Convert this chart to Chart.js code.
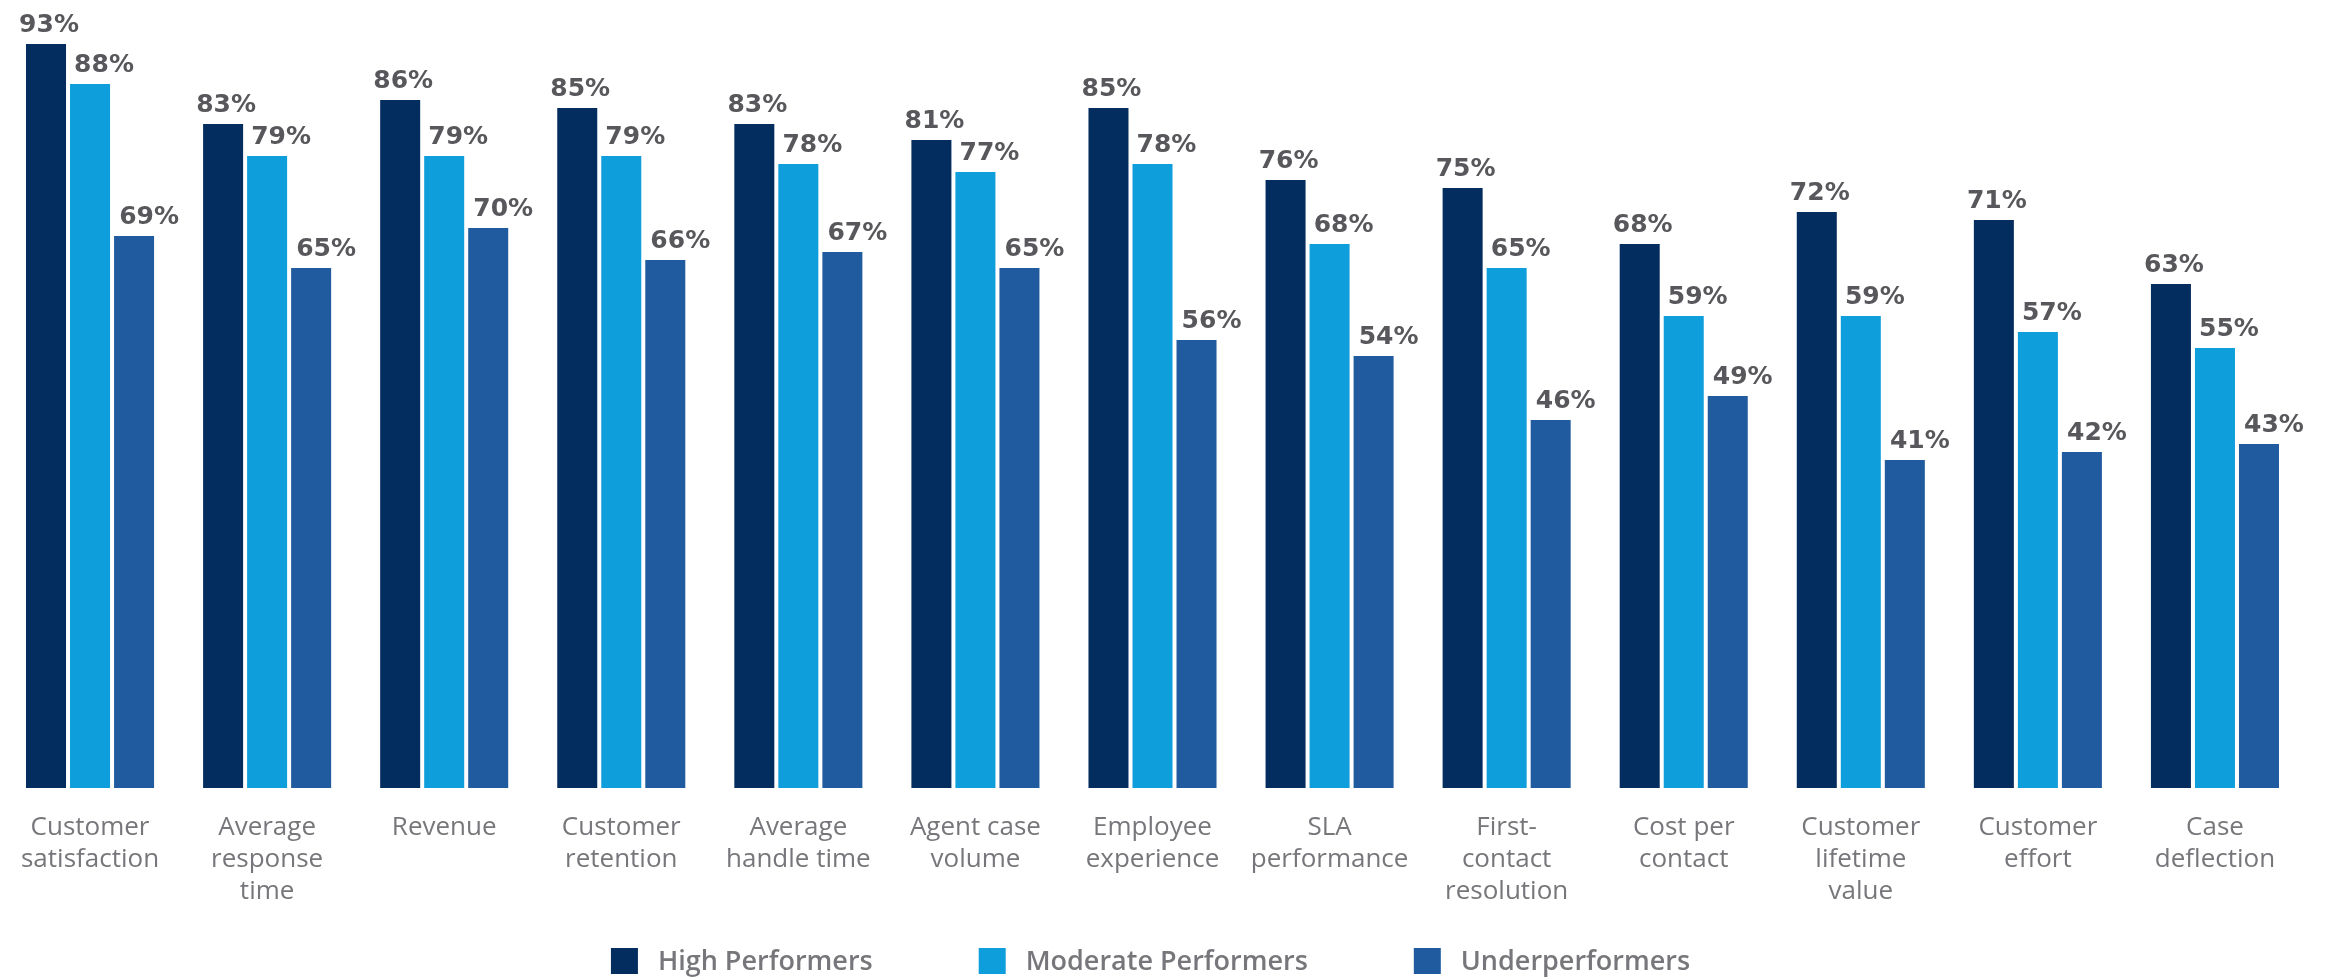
<!DOCTYPE html>
<html>
<head>
<meta charset="utf-8">
<script src="https://cdn.jsdelivr.net/npm/chart.js@4.4.1/dist/chart.umd.min.js"></script>
<style>
  html, body { margin: 0; padding: 0; background: #ffffff; }
  #wrap { width: 2336px; height: 980px; position: relative; }
  canvas { display: block; }
</style>
</head>
<body>
<div id="wrap"><canvas id="chart" width="2336" height="980"></canvas></div>
<script>
// Outcome categories (multi-line axis labels)
const categories = [
  ['Customer', 'satisfaction'],
  ['Average', 'response', 'time'],
  ['Revenue'],
  ['Customer', 'retention'],
  ['Average', 'handle time'],
  ['Agent case', 'volume'],
  ['Employee', 'experience'],
  ['SLA', 'performance'],
  ['First-', 'contact', 'resolution'],
  ['Cost per', 'contact'],
  ['Customer', 'lifetime', 'value'],
  ['Customer', 'effort'],
  ['Case', 'deflection']
];

// Share of each group, in percent
const highPerformers     = [93, 83, 86, 85, 83, 81, 85, 76, 75, 68, 72, 71, 63];
const moderatePerformers = [88, 79, 79, 79, 78, 77, 78, 68, 65, 59, 59, 57, 55];
const underperformers    = [69, 65, 70, 66, 67, 65, 56, 54, 46, 49, 41, 42, 43];

const seriesNames = ['High Performers', 'Moderate Performers', 'Underperformers'];

// Styling
const seriesColors = ['#042d5f', '#0e9edb', '#215b9f'];
const valueLabelShift = [3, 14, 15];
const valueFont = 'bold 25px "DejaVu Sans"';
const valueColor = '#58585c';
const axisColor = '#77777b';

// Percent labels above each bar
const valueLabels = {
  id: 'valueLabels',
  afterDatasetsDraw(chart) {
    const ctx = chart.ctx;
    ctx.save();
    ctx.font = valueFont;
    ctx.fillStyle = valueColor;
    ctx.textAlign = 'center';
    ctx.textBaseline = 'alphabetic';
    chart.data.datasets.forEach((ds, di) => {
      const meta = chart.getDatasetMeta(di);
      meta.data.forEach((bar, i) => {
        ctx.fillText(ds.data[i] + '%', bar.x + valueLabelShift[di], bar.y - 12);
      });
    });
    ctx.restore();
  }
};

// Legend row with tall swatches, centred under the plot
const legendRow = {
  id: 'legendRow',
  afterDraw(chart) {
    const ctx = chart.ctx;
    const area = chart.chartArea;
    const boxW = 27, boxH = 26, textGap = 20, itemGap = 106;
    const cy = 961;
    ctx.save();
    ctx.font = '600 27px "Open Sans"';
    ctx.textBaseline = 'middle';
    ctx.textAlign = 'left';
    const widths = chart.data.datasets.map(ds => ctx.measureText(ds.label).width);
    let total = 0;
    widths.forEach((w, i) => { total += boxW + textGap + w + (i ? itemGap : 0); });
    let x = (area.left + area.right) / 2 - 2 - total / 2;
    chart.data.datasets.forEach((ds, i) => {
      ctx.fillStyle = ds.backgroundColor;
      ctx.fillRect(x, cy - boxH / 2, boxW, boxH);
      ctx.fillStyle = axisColor;
      ctx.fillText(ds.label, x + boxW + textGap, cy + 1);
      x += boxW + textGap + widths[i] + itemGap;
    });
    ctx.restore();
  }
};

const seriesValues = [highPerformers, moderatePerformers, underperformers];

new Chart(document.getElementById('chart'), {
  type: 'bar',
  data: {
    labels: categories,
    datasets: seriesValues.map((vals, i) => ({
      label: seriesNames[i],
      data: vals,
      backgroundColor: seriesColors[i],
      borderWidth: 0,
      categoryPercentage: 0.7458,
      barPercentage: 0.909
    }))
  },
  options: {
    responsive: false,
    animation: false,
    devicePixelRatio: 1,
    layout: { padding: { left: 1.5, right: 32.5, top: 0, bottom: 48 } },
    plugins: {
      legend: { display: false },
      tooltip: { enabled: false }
    },
    scales: {
      x: {
        grid: { display: false, drawTicks: false },
        border: { display: false },
        ticks: {
          padding: 24,
          color: axisColor,
          font: { family: '"Open Sans"', size: 26, lineHeight: 1.2308 },
          maxRotation: 0,
          autoSkip: false
        },
        // edge labels fit inside their categories; no extra side inset needed
        afterFit(scale) {
          scale.paddingLeft = 0;
          scale.paddingRight = 0;
        }
      },
      y: {
        display: false,
        min: 0,
        max: 98.5
      }
    }
  },
  plugins: [valueLabels, legendRow]
});
</script>
</body>
</html>
